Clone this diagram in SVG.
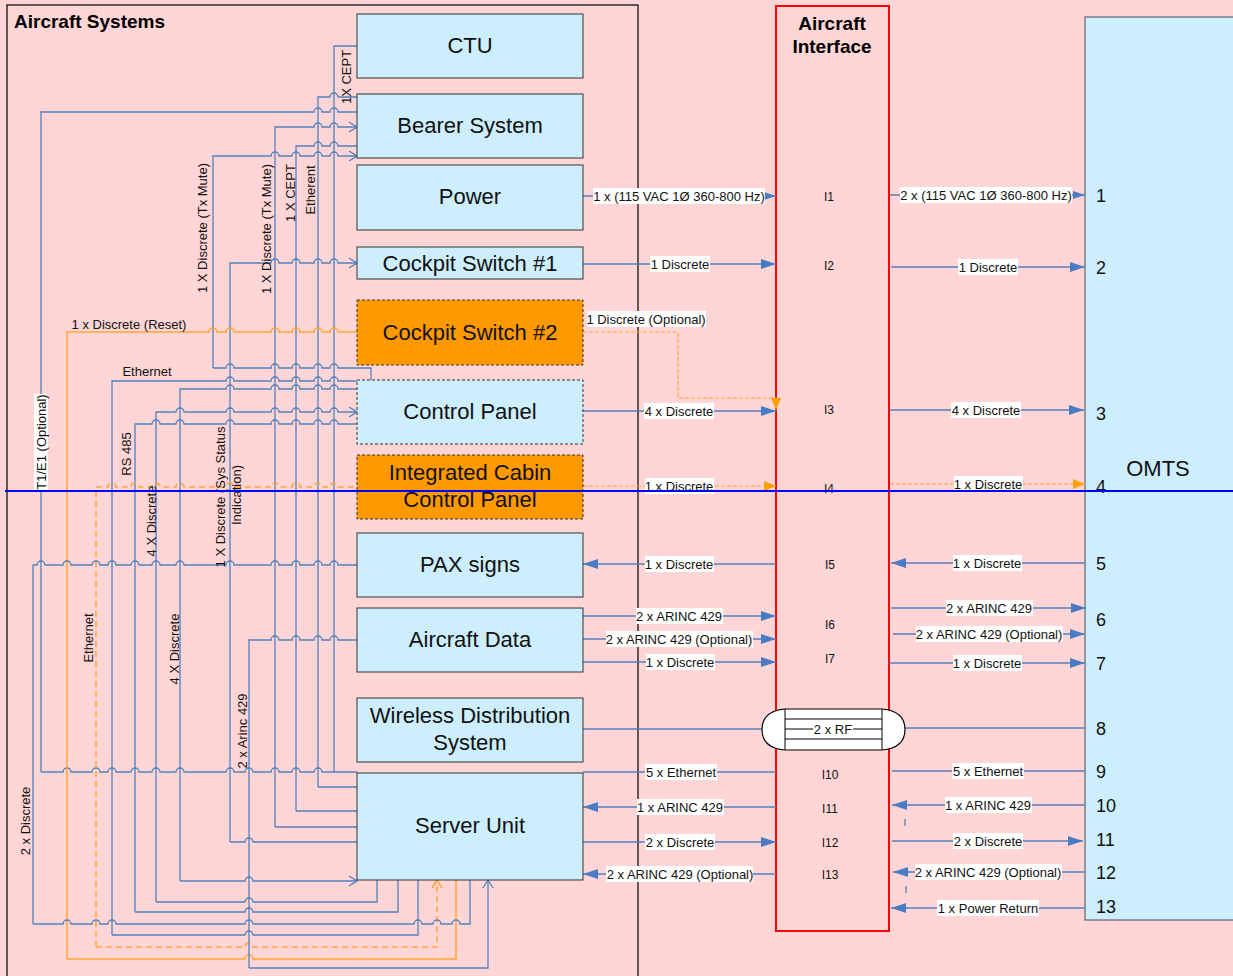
<svg xmlns="http://www.w3.org/2000/svg" width="1233" height="976" viewBox="0 0 1233 976">
<style>
.bg{fill:#ffd5d5}
.box{fill:#cceeff;stroke:#333;stroke-width:1}
.obox{fill:#ff9900;stroke:#333;stroke-width:1;stroke-dasharray:3,2}
.dbox{fill:#cceeff;stroke:#333;stroke-width:1;stroke-dasharray:3,2}
.bl{fill:none;stroke:#4f81bd;stroke-width:1.3}
.or{fill:none;stroke:#ffa535;stroke-width:1.5}
.ord{fill:none;stroke:#ffa535;stroke-width:1.5;stroke-dasharray:6,4}
.ordc{fill:none;stroke:#ffa535;stroke-width:1.2;stroke-dasharray:4,2}
.bt{font-family:"Liberation Sans",Arial,sans-serif;font-size:22px;fill:#111;text-anchor:middle;dominant-baseline:central}
.lb{font-family:"Liberation Sans",Arial,sans-serif;font-size:13px;fill:#111;text-anchor:middle;dominant-baseline:central}
.vl{font-family:"Liberation Sans",Arial,sans-serif;font-size:13px;fill:#111;text-anchor:middle;dominant-baseline:central}
.il{font-family:"Liberation Sans",Arial,sans-serif;font-size:12px;fill:#111;text-anchor:middle;dominant-baseline:central}
.num{font-family:"Liberation Sans",Arial,sans-serif;font-size:18px;fill:#111;dominant-baseline:central}
.wb{fill:#fff}
</style>
<defs>
<marker id="triB" markerUnits="userSpaceOnUse" markerWidth="15" markerHeight="10" refX="15" refY="5" orient="auto"><path d="M0,0 L15,5 L0,10 z" fill="#4a7cc4"/></marker>
<marker id="triS" markerUnits="userSpaceOnUse" markerWidth="12" markerHeight="8" refX="12" refY="4" orient="auto"><path d="M0,0 L12,4 L0,8 z" fill="#4a7cc4"/></marker>
<marker id="triO" markerUnits="userSpaceOnUse" markerWidth="12" markerHeight="10" refX="12" refY="5" orient="auto"><path d="M0,0 L12,5 L0,10 z" fill="#ffa000"/></marker>
<marker id="chB" markerUnits="userSpaceOnUse" markerWidth="10" markerHeight="12" refX="9" refY="6" orient="auto"><path d="M1,1 L9,6 L1,11" fill="none" stroke="#4f81bd" stroke-width="1.3"/></marker>
<marker id="chO" markerUnits="userSpaceOnUse" markerWidth="10" markerHeight="12" refX="9" refY="6" orient="auto"><path d="M1,1 L9,6 L1,11" fill="none" stroke="#ffa535" stroke-width="1.5"/></marker>
</defs>
<rect class="bg" x="0" y="0" width="1233" height="976"/>
<rect x="7" y="5" width="631" height="990" fill="none" stroke="#000" stroke-width="1.2"/>
<text x="14" y="28" font-family="Liberation Sans,Arial,sans-serif" font-size="19" font-weight="bold" fill="#000">Aircraft Systems</text>

<g id="aircraft-interface">
<rect x="776" y="6" width="113" height="925" fill="none" stroke="#ff0000" stroke-width="2"/>
<text x="832" y="23" font-family="Liberation Sans,Arial,sans-serif" font-size="19" font-weight="bold" text-anchor="middle" dominant-baseline="central">Aircraft</text>
<text x="832" y="46" font-family="Liberation Sans,Arial,sans-serif" font-size="19" font-weight="bold" text-anchor="middle" dominant-baseline="central">Interface</text>
<text class="il" x="829" y="197">I1</text>
<text class="il" x="829" y="266">I2</text>
<text class="il" x="829" y="410">I3</text>
<text class="il" x="829" y="489">I4</text>
<text class="il" x="830" y="565">I5</text>
<text class="il" x="830" y="625">I6</text>
<text class="il" x="830" y="659">I7</text>
<text class="il" x="830" y="775">I10</text>
<text class="il" x="830" y="809">I11</text>
<text class="il" x="830" y="843">I12</text>
<text class="il" x="830" y="875">I13</text>
</g>

<g id="omts">
<rect x="1085" y="17" width="160" height="903" fill="#cceeff" stroke="#5a6670" stroke-width="1.2"/>
<text class="bt" x="1158" y="468">OMTS</text>
<text class="num" x="1096" y="196">1</text>
<text class="num" x="1096" y="268">2</text>
<text class="num" x="1096" y="414">3</text>
<text class="num" x="1096" y="487">4</text>
<text class="num" x="1096" y="564">5</text>
<text class="num" x="1096" y="620">6</text>
<text class="num" x="1096" y="664">7</text>
<text class="num" x="1096" y="729">8</text>
<text class="num" x="1096" y="772">9</text>
<text class="num" x="1096" y="806">10</text>
<text class="num" x="1096" y="840">11</text>
<text class="num" x="1096" y="873">12</text>
<text class="num" x="1096" y="907">13</text>
</g>

<g id="connectors">
<path class="bl" d="M334,772 V46 H357"/>
<path class="bl" d="M41,772 V112 H314 a4,4 0 0 1 8,0 H330 a4,4 0 0 1 8,0 H357"/>
<path class="bl" d="M41,772 H63 a4,4 0 0 1 8,0 H92 a4,4 0 0 1 8,0 H108 a4,4 0 0 1 8,0 H131 a4,4 0 0 1 8,0 H152 a4,4 0 0 1 8,0 H176 a4,4 0 0 1 8,0 H226 a4,4 0 0 1 8,0 H245 a4,4 0 0 1 8,0 H271 a4,4 0 0 1 8,0 H292 a4,4 0 0 1 8,0 H314 a4,4 0 0 1 8,0 H357"/>
<path class="bl" d="M318,787 H357 M318,787 V97 H330 a4,4 0 0 1 8,0 H357"/>
<path class="bl" d="M296,811 H357 M296,811 V146 H314 a4,4 0 0 1 8,0 H330 a4,4 0 0 1 8,0 H357"/>
<path class="bl" d="M275,827 V127 H314 a4,4 0 0 1 8,0 H330 a4,4 0 0 1 8,0 H357" marker-end="url(#chB)"/>
<path class="bl" d="M275,827 H357"/>
<path class="bl" d="M213,368 V156 H271 a4,4 0 0 1 8,0 H292 a4,4 0 0 1 8,0 H314 a4,4 0 0 1 8,0 H330 a4,4 0 0 1 8,0 H357" marker-end="url(#chB)"/>
<path class="bl" d="M213,368 H226 a4,4 0 0 1 8,0 H271 a4,4 0 0 1 8,0 H292 a4,4 0 0 1 8,0 H314 a4,4 0 0 1 8,0 H330 a4,4 0 0 1 8,0 H371 V380"/>
<path class="bl" d="M230,842 V263 H271 a4,4 0 0 1 8,0 H292 a4,4 0 0 1 8,0 H314 a4,4 0 0 1 8,0 H330 a4,4 0 0 1 8,0 H357" marker-end="url(#chB)"/>
<path class="bl" d="M230,842 H245 a4,4 0 0 1 8,0 H357"/>
<path class="or" d="M67,959 V332 H209 a4,4 0 0 1 8,0 H226 a4,4 0 0 1 8,0 H271 a4,4 0 0 1 8,0 H292 a4,4 0 0 1 8,0 H314 a4,4 0 0 1 8,0 H330 a4,4 0 0 1 8,0 H357"/>
<path class="or" d="M67,959 H245 a4,4 0 0 1 8,0 H456 V880"/>
<path class="bl" d="M112,935 V381 H226 a4,4 0 0 1 8,0 H271 a4,4 0 0 1 8,0 H292 a4,4 0 0 1 8,0 H314 a4,4 0 0 1 8,0 H330 a4,4 0 0 1 8,0 H357"/>
<path class="bl" d="M112,935 H245 a4,4 0 0 1 8,0 H418 V880"/>
<path class="bl" d="M180,881 V389 H226 a4,4 0 0 1 8,0 H271 a4,4 0 0 1 8,0 H292 a4,4 0 0 1 8,0 H314 a4,4 0 0 1 8,0 H330 a4,4 0 0 1 8,0 H357"/>
<path class="bl" d="M180,881 H245 a4,4 0 0 1 8,0 H357" marker-end="url(#chB)"/>
<path class="bl" d="M156,902 V412 H176 a4,4 0 0 1 8,0 H226 a4,4 0 0 1 8,0 H271 a4,4 0 0 1 8,0 H292 a4,4 0 0 1 8,0 H314 a4,4 0 0 1 8,0 H330 a4,4 0 0 1 8,0 H357" marker-end="url(#chB)"/>
<path class="bl" d="M156,902 H245 a4,4 0 0 1 8,0 H377 V880"/>
<path class="bl" d="M135,912 V424 H152 a4,4 0 0 1 8,0 H176 a4,4 0 0 1 8,0 H226 a4,4 0 0 1 8,0 H271 a4,4 0 0 1 8,0 H292 a4,4 0 0 1 8,0 H314 a4,4 0 0 1 8,0 H330 a4,4 0 0 1 8,0 H357"/>
<path class="bl" d="M135,912 H245 a4,4 0 0 1 8,0 H398 V880"/>
<path class="ord" d="M96,947 V487 H108 a4,4 0 0 1 8,0 H131 a4,4 0 0 1 8,0 H152 a4,4 0 0 1 8,0 H176 a4,4 0 0 1 8,0 H226 a4,4 0 0 1 8,0 H271 a4,4 0 0 1 8,0 H292 a4,4 0 0 1 8,0 H314 a4,4 0 0 1 8,0 H330 a4,4 0 0 1 8,0 H357"/>
<path class="ord" d="M96,947 H245 a4,4 0 0 1 8,0 H437 V880" marker-end="url(#chO)"/>
<path class="bl" d="M33,924 V565 H37 a4,4 0 0 1 8,0 H63 a4,4 0 0 1 8,0 H92 a4,4 0 0 1 8,0 H108 a4,4 0 0 1 8,0 H131 a4,4 0 0 1 8,0 H152 a4,4 0 0 1 8,0 H176 a4,4 0 0 1 8,0 H226 a4,4 0 0 1 8,0 H271 a4,4 0 0 1 8,0 H292 a4,4 0 0 1 8,0 H314 a4,4 0 0 1 8,0 H330 a4,4 0 0 1 8,0 H357"/>
<path class="bl" d="M33,924 H63 a4,4 0 0 1 8,0 H92 a4,4 0 0 1 8,0 H108 a4,4 0 0 1 8,0 H245 a4,4 0 0 1 8,0 H414 a4,4 0 0 1 8,0 H433 a4,4 0 0 1 8,0 H452 a4,4 0 0 1 8,0 H470 V880"/>
<path class="bl" d="M249,968 V640 H271 a4,4 0 0 1 8,0 H292 a4,4 0 0 1 8,0 H314 a4,4 0 0 1 8,0 H330 a4,4 0 0 1 8,0 H357"/>
<path class="bl" d="M249,968 H488 V880" marker-end="url(#chB)"/>

<path class="bl" d="M583,196 H776" marker-end="url(#triS)"/>
<path class="bl" d="M583,264 H776" marker-end="url(#triB)"/>
<path class="ordc" d="M583,332 H678 V398 H776 V410" marker-end="url(#triO)"/>
<path class="bl" d="M583,411 H776" marker-end="url(#triB)"/>
<path class="ordc" d="M583,486 H776" marker-end="url(#triO)"/>
<path class="bl" d="M776,564 H583" marker-end="url(#triB)"/>
<path class="bl" d="M583,616 H776" marker-end="url(#triB)"/>
<path class="bl" d="M583,639 H776" marker-end="url(#triB)"/>
<path class="bl" d="M583,662 H776" marker-end="url(#triB)"/>
<path class="bl" d="M583,729 H762"/>
<path class="bl" d="M583,772 H776"/>
<path class="bl" d="M776,807 H583" marker-end="url(#triB)"/>
<path class="bl" d="M583,842 H776" marker-end="url(#triB)"/>
<path class="bl" d="M776,874 H583" marker-end="url(#triB)"/>

<path class="bl" d="M890,195 H1085" marker-end="url(#triS)"/>
<path class="bl" d="M891,267 H1085" marker-end="url(#triB)"/>
<path class="bl" d="M890,410 H1084" marker-end="url(#triB)"/>
<path class="ordc" d="M890,484 H1085" marker-end="url(#triO)"/>
<path class="bl" d="M1085,563 H891" marker-end="url(#triB)"/>
<path class="bl" d="M891,608 H1086" marker-end="url(#triB)"/>
<path class="bl" d="M893,634 H1085" marker-end="url(#triB)"/>
<path class="bl" d="M889,663 H1085" marker-end="url(#triB)"/>
<path class="bl" d="M905,728 H1085"/>
<path class="bl" d="M892,771 H1085"/>
<path class="bl" d="M1085,805 H892" marker-end="url(#triB)"/>
<path class="bl" d="M892,841 H1083" marker-end="url(#triB)"/>
<path class="bl" d="M1085,872 H893" marker-end="url(#triB)"/>
<path class="bl" d="M1085,908 H891" marker-end="url(#triB)"/>
<path class="bl" d="M905,819 V826 M906,886 V893"/>

<g id="rf">
<path d="M785,709 H882 Q905,711 905,729.5 Q905,748 882,750 H785 Q762,748 762,729.5 Q762,711 785,709 Z" fill="#fff" stroke="#000" stroke-width="1.2"/>
<path d="M785,709 V750 M882,709 V750 M785,719 H882 M785,739 H882 M785,729 H882" fill="none" stroke="#000" stroke-width="1"/>
<rect class="wb" x="813" y="722" width="40" height="14"/>
<text class="lb" x="833" y="729">2 x RF</text>
</g>

<g id="labels">
<rect class="wb" x="593" y="188" width="172" height="16"/><text class="lb" x="679" y="196">1 x (115 VAC 1Ø 360-800 Hz)</text>
<rect class="wb" x="650" y="256" width="60" height="16"/><text class="lb" x="680" y="264">1 Discrete</text>
<rect class="wb" x="587" y="311" width="119" height="16"/><text class="lb" x="646" y="319">1 Discrete (Optional)</text>
<rect class="wb" x="644" y="403" width="70" height="16"/><text class="lb" x="679" y="411">4 x Discrete</text>
<rect class="wb" x="645" y="478" width="69" height="16"/><text class="lb" x="679" y="486">1 x Discrete</text>
<rect class="wb" x="645" y="556" width="69" height="16"/><text class="lb" x="679" y="564">1 x Discrete</text>
<rect class="wb" x="636" y="608" width="87" height="16"/><text class="lb" x="679" y="616">2 x ARINC 429</text>
<rect class="wb" x="606" y="631" width="147" height="16"/><text class="lb" x="679" y="639">2 x ARINC 429 (Optional)</text>
<rect class="wb" x="646" y="654" width="69" height="16"/><text class="lb" x="680" y="662">1 x Discrete</text>
<rect class="wb" x="645" y="764" width="72" height="16"/><text class="lb" x="681" y="772">5 x Ethernet</text>
<rect class="wb" x="637" y="799" width="87" height="16"/><text class="lb" x="680" y="807">1 x ARINC 429</text>
<rect class="wb" x="645" y="834" width="70" height="16"/><text class="lb" x="680" y="842">2 x Discrete</text>
<rect class="wb" x="606" y="866" width="147" height="16"/><text class="lb" x="680" y="874">2 x ARINC 429 (Optional)</text>

<rect class="wb" x="900" y="187" width="172" height="16"/><text class="lb" x="986" y="195">2 x (115 VAC 1Ø 360-800 Hz)</text>
<rect class="wb" x="958" y="259" width="60" height="16"/><text class="lb" x="988" y="267">1 Discrete</text>
<rect class="wb" x="951" y="402" width="70" height="16"/><text class="lb" x="986" y="410">4 x Discrete</text>
<rect class="wb" x="954" y="476" width="69" height="16"/><text class="lb" x="988" y="484">1 x Discrete</text>
<rect class="wb" x="953" y="555" width="69" height="16"/><text class="lb" x="987" y="563">1 x Discrete</text>
<rect class="wb" x="946" y="600" width="87" height="16"/><text class="lb" x="989" y="608">2 x ARINC 429</text>
<rect class="wb" x="916" y="626" width="147" height="16"/><text class="lb" x="989" y="634">2 x ARINC 429 (Optional)</text>
<rect class="wb" x="953" y="655" width="69" height="16"/><text class="lb" x="987" y="663">1 x Discrete</text>
<rect class="wb" x="952" y="763" width="72" height="16"/><text class="lb" x="988" y="771">5 x Ethernet</text>
<rect class="wb" x="945" y="797" width="87" height="16"/><text class="lb" x="988" y="805">1 x ARINC 429</text>
<rect class="wb" x="953" y="833" width="70" height="16"/><text class="lb" x="988" y="841">2 x Discrete</text>
<rect class="wb" x="915" y="864" width="147" height="16"/><text class="lb" x="988" y="872">2 x ARINC 429 (Optional)</text>
<rect class="wb" x="937" y="900" width="102" height="16"/><text class="lb" x="988" y="908">1 x Power Return</text>

<text class="vl" transform="rotate(-90 346 77)" x="346" y="77">1X CEPT</text>
<text class="vl" transform="rotate(-90 310 190)" x="310" y="190">Etherent</text>
<text class="vl" transform="rotate(-90 290 193)" x="290" y="193">1 X CEPT</text>
<text class="vl" transform="rotate(-90 266 229)" x="266" y="229">1 X Discrete (Tx Mute)</text>
<text class="vl" transform="rotate(-90 202 228)" x="202" y="228">1 X Discrete (Tx Mute)</text>
<rect class="wb" x="34" y="394" width="14" height="96"/>
<text class="vl" transform="rotate(-90 41 442)" x="41" y="442">T1/E1 (Optional)</text>
<text class="vl" transform="rotate(-90 126 454)" x="126" y="454">RS 485</text>
<text class="vl" transform="rotate(-90 151 521)" x="151" y="521">4 X Discrete</text>
<text class="vl" transform="rotate(-90 220 497)" x="220" y="497">1 X Discrete (Sys Status</text>
<text class="vl" transform="rotate(-90 236 495)" x="236" y="495">Indication)</text>
<text class="vl" transform="rotate(-90 88 638)" x="88" y="638">Ethernet</text>
<text class="vl" transform="rotate(-90 174 649)" x="174" y="649">4 X Discrete</text>
<text class="vl" transform="rotate(-90 242 731)" x="242" y="731">2 x Arinc 429</text>
<text class="vl" transform="rotate(-90 25 821)" x="25" y="821">2 x Discrete</text>
<text class="lb" x="129" y="324">1 x Discrete (Reset)</text>
<text class="lb" x="147" y="371">Ethernet</text>
</g>
</g>

<g id="ctu"><rect class="box" x="357" y="14" width="226" height="64"/><text class="bt" x="470" y="45">CTU</text></g>
<g id="bearer-system"><rect class="box" x="357" y="94" width="226" height="64"/><text class="bt" x="470" y="125">Bearer System</text></g>
<g id="power"><rect class="box" x="357" y="165" width="226" height="65"/><text class="bt" x="470" y="196">Power</text></g>
<g id="cockpit-switch-1"><rect class="box" x="357" y="247" width="226" height="32"/><text class="bt" x="470" y="263">Cockpit Switch #1</text></g>
<g id="cockpit-switch-2"><rect class="obox" x="357" y="300" width="226" height="65"/><text class="bt" x="470" y="332">Cockpit Switch #2</text></g>
<g id="control-panel"><rect class="dbox" x="357" y="380" width="226" height="64"/><text class="bt" x="470" y="411">Control Panel</text></g>
<g id="iccp"><rect class="obox" x="357" y="455" width="226" height="64"/><text class="bt" x="470" y="472">Integrated Cabin</text><text class="bt" x="470" y="499">Control Panel</text></g>
<g id="pax-signs"><rect class="box" x="357" y="533" width="226" height="64"/><text class="bt" x="470" y="564">PAX signs</text></g>
<g id="aircraft-data"><rect class="box" x="357" y="608" width="226" height="64"/><text class="bt" x="470" y="639">Aircraft Data</text></g>
<g id="wds"><rect class="box" x="357" y="698" width="226" height="64"/><text class="bt" x="470" y="715">Wireless Distribution</text><text class="bt" x="470" y="742">System</text></g>
<g id="server-unit"><rect class="box" x="357" y="773" width="226" height="107"/><text class="bt" x="470" y="825">Server Unit</text></g>

<line x1="5" y1="491" x2="1233" y2="491" stroke="#0000ff" stroke-width="2"/>
</svg>
